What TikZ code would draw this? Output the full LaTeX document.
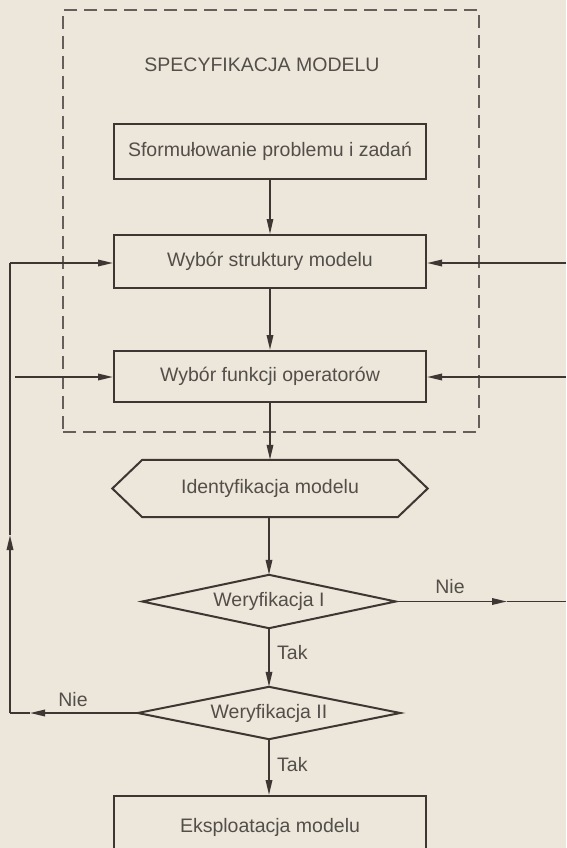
\documentclass[tikz,border=0pt]{standalone}
\usepackage{fontspec}
\setmainfont{Liberation Sans}
\usetikzlibrary{arrows.meta}
\definecolor{bg}{RGB}{236,231,218}
\definecolor{ink}{RGB}{62,54,50}
\definecolor{txt}{RGB}{84,78,74}
\begin{document}
\begin{tikzpicture}[x=1pt,y=-1pt,
  every node/.style={font=\fontsize{19.5}{22}\selectfont, text=txt},
  box/.style={draw=ink, line width=2pt, minimum width=312pt, inner sep=0pt},
  ghost/.style={inner sep=0pt},
  conn/.style={draw=ink, line width=1.8pt},
  arr/.style={conn, -{Triangle[length=15pt,width=6.5pt]}},
  lab/.style={inner sep=0pt}
]
\fill[bg] (0,0) rectangle (566,848);
\useasboundingbox (0,0) rectangle (566,848);
\clip (0,0) rectangle (566,848);

% dashed frame
\node[draw=ink!80, dashed, dash pattern=on 13pt off 7pt, line width=1.7pt,
      minimum width=416pt, minimum height=422pt, inner sep=0pt] (spec) at (271,221) {};
\node[lab] (title) at (262,65) {SPECYFIKACJA MODELU};

\node[box, minimum height=55pt] (b1) at (270,151.5) {Sformułowanie problemu i zadań};
\node[box, minimum height=53pt] (b2) at (270,261.5) {Wybór struktury modelu};
\node[box, minimum height=51pt] (b3) at (270,376.5) {Wybór funkcji operatorów};

\node[ghost, minimum width=315pt, minimum height=57pt] (hex) at (270,488.5) {Identyfikacja modelu};
\draw[ink, line width=2pt, line join=miter]
  ([xshift=30pt]hex.north west) -- ([xshift=-30pt]hex.north east) -- (hex.east)
  -- ([xshift=-30pt]hex.south east) -- ([xshift=30pt]hex.south west) -- (hex.west) -- cycle;

\node[ghost, minimum width=253pt, minimum height=53pt] (d1) at (269,601.5) {Weryfikacja I};
\draw[ink, line width=2pt] (d1.north) -- (d1.east) -- (d1.south) -- (d1.west) -- cycle;

\node[ghost, minimum width=262pt, minimum height=52pt] (d2) at (269,713) {Weryfikacja II};
\draw[ink, line width=2pt] (d2.north) -- (d2.east) -- (d2.south) -- (d2.west) -- cycle;

\node[box, minimum height=66pt, text depth=0pt] (b4) at (270,829) {};
\node[lab] (b4t) at (270,827) {Eksploatacja modelu};

% main flow
\draw[arr, line width=1.3pt] (b1.south) -- (b2.north);
\draw[arr] (b2.south) -- (b3.north);
\draw[arr] (b3.south) -- (hex.north);
\draw[arr] (hex.south -| d1.north) -- (d1.north);
\draw[arr] (d1.south) -- (d2.north);
\node[lab, anchor=west] (tak1) at (277,653) {Tak};
\draw[arr] (d2.south) -- (b4.north -| d2.south);
\node[lab, anchor=west] (tak2) at (277,765) {Tak};

% right exit from Weryfikacja I
\coordinate (r1) at (507,601.5);
\coordinate (r1e) at (566,601.5);
\draw[arr] (d1.east) -- (r1);
\draw[conn] (r1) -- (r1e);
\node[lab] (nie1) at (450,587) {Nie};

% left feedback from Weryfikacja II
\coordinate (l1) at (30,713);
\coordinate (lc) at (10,713);
\coordinate (lu) at (10,535);
\coordinate (lt) at (10,263);
\draw[arr] (d2.west) -- (l1);
\draw[conn] (l1) -- (lc);
\node[lab] (nie2) at (73,700) {Nie};
\draw[arr] (lc) -- (lu);
\draw[conn] (lu) -- (lt);
\draw[arr] (lt) -- (b2.west |- lt);

% other inputs
\coordinate (li3) at (15,377);
\draw[arr] (li3) -- (b3.west |- li3);
\coordinate (ri2) at (566,263);
\coordinate (ri3) at (566,377);
\draw[arr] (ri2) -- (b2.east |- ri2);
\draw[arr] (ri3) -- (b3.east |- ri3);
\end{tikzpicture}
\end{document}
